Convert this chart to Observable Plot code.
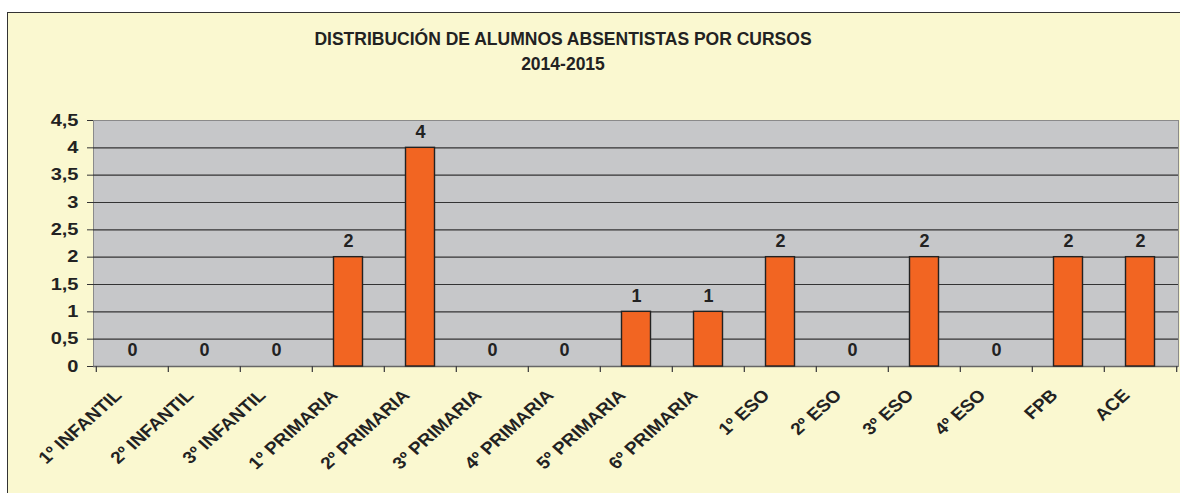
<!DOCTYPE html>
<html>
<head>
<meta charset="utf-8">
<script src="https://cdn.jsdelivr.net/npm/d3@7"></script>
<script src="https://cdn.jsdelivr.net/npm/@observablehq/plot@0.6"></script>
<style>
  html, body { margin: 0; padding: 0; background: #fff; }
  #wrap { position: relative; width: 1180px; height: 493px; overflow: hidden; background: #fff; font-family: "Liberation Sans", Arial, sans-serif; }
  #frame { position: absolute; left: 7px; top: 12px; width: 1220px; height: 520px; border: 1.5px solid #333; background: #FAF8D0; }
  #title { position: absolute; left: 0; top: 27px; width: 1126px; text-align: center; font-weight: bold; font-size: 17.5px; line-height: 25px; color: #222; }
  #chart { position: absolute; left: 0; top: 0; }
</style>
</head>
<body>
<div id="wrap">
  <div id="frame"></div>
  <div id="title">DISTRIBUCIÓN DE ALUMNOS ABSENTISTAS POR CURSOS<br>2014-2015</div>
  <div id="chart"></div>
</div>
<script>
const categories = ["1º INFANTIL","2º INFANTIL","3º INFANTIL","1º PRIMARIA","2º PRIMARIA","3º PRIMARIA","4º PRIMARIA","5º PRIMARIA","6º PRIMARIA","1º ESO","2º ESO","3º ESO","4º ESO","FPB","ACE"];
const values = [0,0,0,2,4,0,0,1,1,2,0,2,0,2,2];
const yTicks = [0,0.5,1,1.5,2,2.5,3,3.5,4,4.5];

const data = categories.map((c, i) => ({curso: c, n: values[i]}));
const W = 1180, H = 493, mL = 93, mR = 2, mT = 120, mB = 127;
const step = (W - mL - mR) / categories.length;
const fmt = d => String(d).replace(".", ",");
const font = {fontSize: 16, fontWeight: "bold", fill: "#222"};

const chart = Plot.plot({
  width: W, height: H,
  marginLeft: mL, marginRight: mR, marginTop: mT, marginBottom: mB,
  style: {background: "transparent", fontFamily: "Liberation Sans, Arial, sans-serif", color: "#222"},
  x: {domain: categories, padding: 0, axis: null},
  y: {domain: [0, 4.5], axis: null},
  marks: [
    Plot.frame({fill: "#C6C7C9", stroke: "#8a8a8a"}),
    Plot.ruleY(yTicks.filter(t => t > 0 && t < 4.5), {stroke: "#333", strokeWidth: 1.2}),
    Plot.ruleY([0], {stroke: "#666", strokeWidth: 1.5}),
    Plot.barY(data, {x: "curso", y: "n", fill: "#F26522", stroke: "#222", strokeWidth: 1.4, insetLeft: 21.5, insetRight: 21.5}),
    Plot.text(data, {x: "curso", y: "n", text: d => fmt(d.n), dy: -16, fontSize: 18, fontWeight: "bold", fill: "#222"}),
    Plot.axisY({ticks: yTicks, tickFormat: fmt, tickSize: 6, tickPadding: 9, stroke: "#333", label: null, ...font}),
    Plot.ruleX(categories, {x: d => d, y1: 0, y2: -0.11, dx: -step / 2, stroke: "#444", strokeWidth: 1.3}),
    Plot.ruleX(categories.slice(-1), {x: d => d, y1: 0, y2: -0.11, dx: step / 2, stroke: "#444", strokeWidth: 1.3}),
    Plot.text(categories, {x: d => d, y: 0, text: d => d, rotate: -45, textAnchor: "end", lineAnchor: "middle", dx: -14, dy: 26, fontSize: 17, fontWeight: "bold", fill: "#222"})
  ]
});
document.getElementById("chart").appendChild(chart);

// the reference's axis text is horizontally stretched (Excel export); mimic with a scale about each anchor
chart.querySelectorAll("text").forEach(t => {
  const isX = categories.includes(t.textContent);
  const isY = t.parentNode && t.parentNode.getAttribute("aria-label") === "y-axis tick label";
  const tr = t.getAttribute("transform") || "";
  if (isX) {
    t.setAttribute("transform", tr.replace(/rotate\(-45\)/, "scale(1.12,1) rotate(-45)"));
  } else if (isY) {
    t.setAttribute("transform", tr + " scale(1.25,1)");
  }
});
</script>
</body>
</html>
